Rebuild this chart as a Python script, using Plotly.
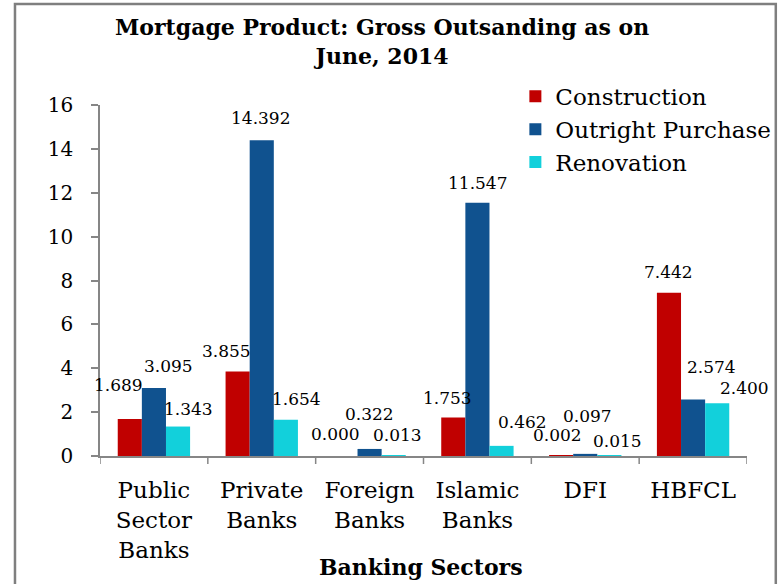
import plotly.graph_objects as go

# Banking sectors and gross outstanding mortgage amounts by product
sectors = ["Public<br>Sector<br>Banks", "Private<br>Banks", "Foreign<br>Banks",
           "Islamic<br>Banks", "DFI", "HBFCL"]
construction = [1.689, 3.855, 0.000, 1.753, 0.002, 7.442]
outright_purchase = [3.095, 14.392, 0.322, 11.547, 0.097, 2.574]
renovation = [1.343, 1.654, 0.013, 0.462, 0.015, 2.400]
y_ticks = [0, 2, 4, 6, 8, 10, 12, 14, 16]

series_names = ["Construction", "Outright Purchase", "Renovation"]
series_values = [construction, outright_purchase, renovation]
series_colors = ["#C00000", "#10528F", "#12D0DB"]

# label nudges in pixels (dx, dy above bar top) for readability
label_nudges = [
    [(-11, 34), (-11, 20), (-10, 22), (-6, 20), (-4, 21), (0, 21)],
    [(15, 22), (-1, 22), (0, 35), (0, 20), (2, 38), (18, 33)],
    [(10, 18), (11, 21), (4, 21), (21, 24), (8, 15), (27, 15)],
]

SERIF = "DejaVu Serif"
BAR_W = 0.2236  # bar width in category units (bargap below)
PLOT_H = 351    # plot area height in px

fig = go.Figure()
for name, vals, col in zip(series_names, series_values, series_colors):
    fig.add_trace(go.Bar(
        name=name, x=list(range(len(sectors))), y=vals,
        marker=dict(color=col, line=dict(width=0)),
    ))

annotations = []
for s, (vals, nudges) in enumerate(zip(series_values, label_nudges)):
    offset = (s - 1) * BAR_W
    for i, v in enumerate(vals):
        dx, dy = nudges[i]
        annotations.append(dict(
            x=i + offset, y=v, xref="x", yref="y",
            text=f"{v:.3f}", showarrow=False,
            xanchor="center", yanchor="middle",
            xshift=dx, yshift=dy,
            font=dict(family=SERIF, size=17, color="black"),
        ))

# chart title (two lines)
annotations.append(dict(
    x=0.436, y=1.18, xref="paper", yref="paper",
    text="<b>Mortgage Product: Gross Outsanding as on<br>June, 2014</b>",
    showarrow=False, xanchor="center", yanchor="middle",
    font=dict(family=SERIF, size=22, color="black"),
))

# x-axis title
annotations.append(dict(
    x=0.4955, y=-0.316, xref="paper", yref="paper",
    text="<b>Banking Sectors</b>", showarrow=False,
    xanchor="center", yanchor="middle",
    font=dict(family=SERIF, size=22, color="black"),
))

fig.update_layout(
    width=780, height=584,
    margin=dict(l=100, r=33, t=105, b=584 - 105 - PLOT_H, autoexpand=False),
    paper_bgcolor="white", plot_bgcolor="white",
    barmode="group", bargap=0.329, bargroupgap=0,
    xaxis=dict(
        tickmode="array", tickvals=list(range(len(sectors))), ticktext=sectors,
        range=[-0.5, len(sectors) - 0.5],
        showline=True, linecolor="#868686", linewidth=1.5,
        ticks="", showgrid=False, zeroline=False,
        tickfont=dict(family=SERIF, size=23, color="black"),
        ticklabelstandoff=13,
    ),
    yaxis=dict(
        range=[0, 16], tickvals=y_ticks,
        showline=True, linecolor="#868686", linewidth=1.5,
        ticks="outside", ticklen=7, tickcolor="#868686", tickwidth=1.5,
        showgrid=False, zeroline=False,
        tickfont=dict(family=SERIF, size=20, color="black"),
        ticklabelstandoff=14,
    ),
    legend=dict(
        x=0.642, y=1.086, xanchor="left", yanchor="top",
        font=dict(family=SERIF, size=23, color="black"),
        bgcolor="rgba(0,0,0,0)", traceorder="normal",
    ),
    annotations=annotations,
    showlegend=True,
)

# category boundary ticks on the x axis
shapes = []
for k in range(len(sectors) + 1):
    shapes.append(dict(
        type="line", xref="x", yref="paper",
        x0=k - 0.5, x1=k - 0.5, y0=0, y1=-8 / PLOT_H,
        line=dict(color="#868686", width=1.5),
    ))
# outer chart frame
shapes.append(dict(
    type="rect", xref="paper", yref="paper",
    x0=-0.1314, x1=1.0445, y0=-0.45, y1=1.288,
    line=dict(color="#7F7F7F", width=2.5), fillcolor="rgba(0,0,0,0)",
    layer="below",
))
fig.update_layout(shapes=shapes)

fig.write_html("out.html")
